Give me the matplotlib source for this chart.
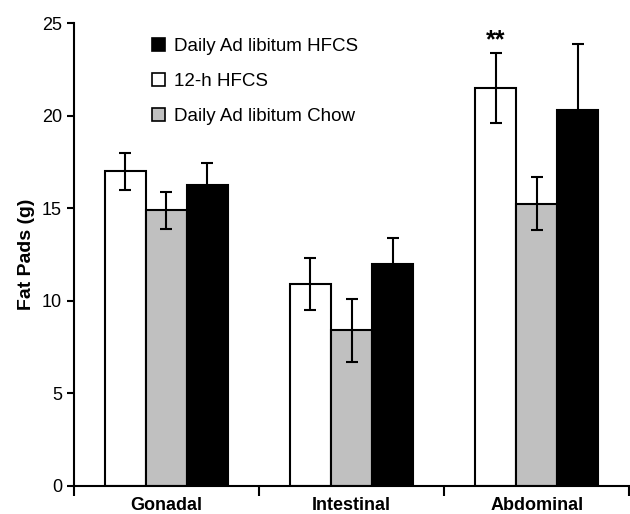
import numpy as np
import matplotlib
matplotlib.use("Agg")
import matplotlib.pyplot as plt
from matplotlib.patches import Patch

plt.rcParams['font.family'] = ['Liberation Sans', 'DejaVu Sans']

regions = ['Gonadal', 'Intestinal', 'Abdominal']
hfcs12 = [17.0, 10.9, 21.5]
hfcs12_err = [1.0, 1.4, 1.9]
chow = [14.9, 8.4, 15.25]
chow_err = [1.0, 1.7, 1.45]
hfcs_daily = [16.25, 12.0, 20.3]
hfcs_daily_err = [1.2, 1.4, 3.55]
yticks = [0, 5, 10, 15, 20, 25]

fig = plt.figure(figsize=(6.3, 5.14), dpi=100)
ax = fig.add_axes([0.117, 0.0545, 0.882, 0.9005])

x = np.arange(len(regions)) + 0.5
w = 0.222
errkw = dict(ecolor='black', elinewidth=1.5, capsize=4, capthick=1.5)
ax.bar(x - w, hfcs12, w, yerr=hfcs12_err, color='white', edgecolor='black', linewidth=1.5, error_kw=errkw, zorder=2)
ax.bar(x, chow, w, yerr=chow_err, color='#c0c0c0', edgecolor='black', linewidth=1.5, error_kw=errkw, zorder=2)
ax.bar(x + w, hfcs_daily, w, yerr=hfcs_daily_err, color='black', edgecolor='black', linewidth=1.5, error_kw=errkw, zorder=2)

# significance marker
ax.text(x[2] - w, hfcs12[2] + hfcs12_err[2] + 0.05, '**', ha='center', va='bottom', fontsize=18, fontweight='bold')

ax.set_xlim(0, 3)
ax.set_ylim(0, 25)
ax.set_yticks(yticks)
ax.tick_params(axis='y', labelsize=13, width=1.5, length=5, direction='out')
ax.set_xticks([0, 1, 2, 3])
ax.set_xticklabels([])
ax.set_xticks(x, minor=True)
ax.set_xticklabels(regions, minor=True, fontsize=13, fontweight='bold')
ax.tick_params(axis='x', which='major', width=1.5, length=7, direction='out')
ax.tick_params(axis='x', which='minor', length=0, pad=8)
for s in ['top', 'right']:
    ax.spines[s].set_visible(False)
for s in ['left', 'bottom']:
    ax.spines[s].set_linewidth(1.5)

ax.set_ylabel('Fat Pads (g)', fontsize=14, fontweight='bold', labelpad=5)

handles = [Patch(facecolor='black', edgecolor='black', linewidth=1.2),
           Patch(facecolor='white', edgecolor='black', linewidth=1.2),
           Patch(facecolor='#c0c0c0', edgecolor='black', linewidth=1.2)]
labels = ['Daily Ad libitum HFCS', '12-h HFCS', 'Daily Ad libitum Chow']
ax.legend(handles, labels, loc='upper left', bbox_to_anchor=(0.11, 1.005), frameon=False,
          fontsize=13.5, handlelength=0.7, handleheight=0.7, handletextpad=0.5, labelspacing=0.95)

fig.savefig('out.png', dpi=100)
